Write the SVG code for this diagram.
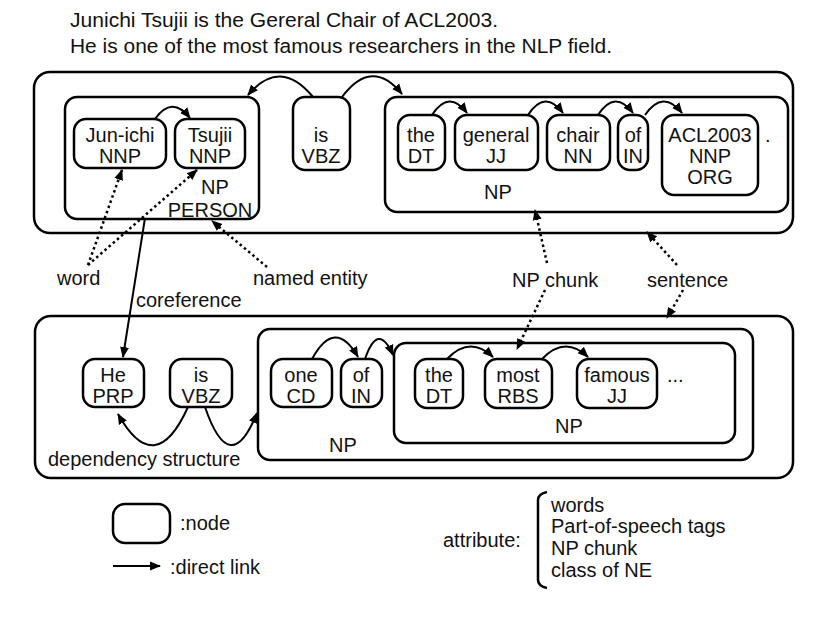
<svg xmlns="http://www.w3.org/2000/svg" width="816" height="628" viewBox="0 0 816 628">
<defs>
<marker id="ah" markerUnits="userSpaceOnUse" markerWidth="12" markerHeight="10" refX="10" refY="5" orient="auto">
<path d="M0,0.5 L11,5 L0,9.5 Z" fill="#000"/>
</marker>
<style>
text{font-family:"Liberation Sans",Arial,sans-serif;font-size:20px;fill:#111}
.n{text-anchor:middle}
.box{fill:none;stroke:#000;stroke-width:2.5}
.nd{fill:#fff;stroke:#000;stroke-width:2.5}
.arc{fill:none;stroke:#000;stroke-width:2;marker-end:url(#ah)}
.dot{fill:none;stroke:#000;stroke-width:2.5;stroke-dasharray:2.5 3;marker-end:url(#ah)}
.ttl{font-size:20px}
</style>
</defs>
<rect width="816" height="628" fill="#fff"/>
<g id="title">
<text class="ttl" x="70" y="27" textLength="428" lengthAdjust="spacingAndGlyphs">Junichi Tsujii is the Gereral Chair of ACL2003.</text>
<text class="ttl" x="70" y="53" textLength="542" lengthAdjust="spacingAndGlyphs">He is one of the most famous researchers in the NLP field.</text>
</g>
<g id="sentence1">
<rect class="box" x="34" y="72" width="759" height="161" rx="16"/>
</g>
<g id="np-person">
<rect class="box" x="65" y="97" width="194" height="122" rx="12"/>
<text class="n" x="215" y="194">NP</text>
<text class="n" x="210" y="217">PERSON</text>
</g>
<g id="n-junichi"><rect class="nd" x="74" y="119" width="92" height="49" rx="12"/><text class="n" x="120" y="142">Jun-ichi</text><text class="n" x="120" y="163">NNP</text></g>
<g id="n-tsujii"><rect class="nd" x="175" y="119" width="70" height="49" rx="12"/><text class="n" x="210" y="142">Tsujii</text><text class="n" x="210" y="163">NNP</text></g>
<g id="n-is1"><rect class="nd" x="293" y="97" width="57" height="73" rx="12"/><text class="n" x="321" y="142">is</text><text class="n" x="321" y="163">VBZ</text></g>
<g id="np2">
<rect class="box" x="385" y="97" width="403" height="115" rx="12"/>
<text class="n" x="498" y="199">NP</text>
</g>
<g id="n-the1"><rect class="nd" x="398" y="115" width="47" height="55" rx="12"/><text class="n" x="421" y="142">the</text><text class="n" x="421" y="163">DT</text></g>
<g id="n-general"><rect class="nd" x="455" y="115" width="83" height="55" rx="12"/><text class="n" x="496" y="142">general</text><text class="n" x="496" y="163">JJ</text></g>
<g id="n-chair"><rect class="nd" x="547" y="115" width="63" height="55" rx="12"/><text class="n" x="578" y="142">chair</text><text class="n" x="578" y="163">NN</text></g>
<g id="n-of1"><rect class="nd" x="618" y="115" width="30" height="55" rx="12"/><text class="n" x="633" y="142">of</text><text class="n" x="633" y="163">IN</text></g>
<g id="n-acl"><rect class="nd" x="662" y="115" width="96" height="80" rx="12"/><text class="n" x="710" y="142">ACL2003</text><text class="n" x="710" y="163">NNP</text><text class="n" x="710" y="184">ORG</text></g>
<g id="period"><text x="765" y="142">.</text></g>

<g id="sentence2">
<rect class="box" x="35" y="316" width="758" height="162" rx="16"/>
<text x="48" y="466">dependency structure</text>
</g>
<g id="np3">
<rect class="box" x="258" y="329" width="495" height="131" rx="12"/>
<text class="n" x="343" y="452">NP</text>
</g>
<g id="np4">
<rect class="box" x="394" y="343" width="341" height="100" rx="12"/>
<text class="n" x="569" y="433">NP</text>
</g>
<g id="n-he"><rect class="nd" x="83" y="359" width="61" height="48" rx="12"/><text class="n" x="113" y="382">He</text><text class="n" x="113" y="403">PRP</text></g>
<g id="n-is2"><rect class="nd" x="170" y="359" width="62" height="48" rx="12"/><text class="n" x="201" y="382">is</text><text class="n" x="201" y="403">VBZ</text></g>
<g id="n-one"><rect class="nd" x="271" y="359" width="61" height="48" rx="12"/><text class="n" x="301" y="382">one</text><text class="n" x="301" y="403">CD</text></g>
<g id="n-of2"><rect class="nd" x="341" y="359" width="41" height="48" rx="12"/><text class="n" x="361" y="382">of</text><text class="n" x="361" y="403">IN</text></g>
<g id="n-the2"><rect class="nd" x="415" y="359" width="48" height="49" rx="12"/><text class="n" x="439" y="382">the</text><text class="n" x="439" y="403">DT</text></g>
<g id="n-most"><rect class="nd" x="485" y="359" width="67" height="49" rx="12"/><text class="n" x="518" y="382">most</text><text class="n" x="518" y="403">RBS</text></g>
<g id="n-famous"><rect class="nd" x="577" y="359" width="80" height="49" rx="12"/><text class="n" x="617" y="382">famous</text><text class="n" x="617" y="403">JJ</text></g>
<g id="ellipsis"><text x="667" y="382">...</text></g>

<g id="labels">
<text x="57" y="285">word</text>
<text x="253" y="285">named entity</text>
<text x="136" y="307">coreference</text>
<text x="512" y="287">NP chunk</text>
<text x="647" y="287">sentence</text>
</g>

<g id="connectors">
<path class="arc" d="M313,97 Q280,57 248,95"/>
<path class="arc" d="M342,97 Q372,57 402,94"/>
<path class="arc" d="M155,119 Q172,95 190,118"/>
<path class="arc" d="M432,115 Q449,89 467,113"/>
<path class="arc" d="M528,115 Q545,89 563,113"/>
<path class="arc" d="M598,115 Q615,89 633,113"/>
<path class="arc" d="M645,115 Q663,89 682,113"/>
<path class="arc" d="M312,359 Q335,317 358,357"/>
<path class="arc" d="M365,359 Q378,321 393,355"/>
<path class="arc" d="M447,359 Q470,335 493,357"/>
<path class="arc" d="M542,359 Q565,335 588,357"/>
<path class="arc" d="M188,407 Q155,480 118,414"/>
<path class="arc" d="M205,407 Q230,480 257,413"/>
<path class="arc" d="M145,218 L123,357"/>
<path class="dot" d="M88,265 L122,170"/>
<path class="dot" d="M88,265 L197,170"/>
<path class="dot" d="M267,267 L212,221"/>
<path class="dot" d="M547,263 L535,210"/>
<path class="dot" d="M545,290 L517,349"/>
<path class="dot" d="M677,265 L647,232"/>
<path class="dot" d="M683,290 L667,318"/>
</g>

<g id="legend">
<rect class="nd" x="113" y="504" width="57" height="39" rx="12"/>
<text x="180" y="530">:node</text>
<path class="arc" d="M113,566 L160,566"/>
<text x="170" y="574">:direct link</text>
<text x="443" y="547">attribute:</text>
<path d="M547,492 Q538,494 538,500 L538,580 Q538,586 547,588" fill="none" stroke="#000" stroke-width="2.5"/>
<text x="551" y="512">words</text>
<text x="551" y="533">Part-of-speech tags</text>
<text x="551" y="555">NP chunk</text>
<text x="551" y="577">class of NE</text>
</g>
</svg>
